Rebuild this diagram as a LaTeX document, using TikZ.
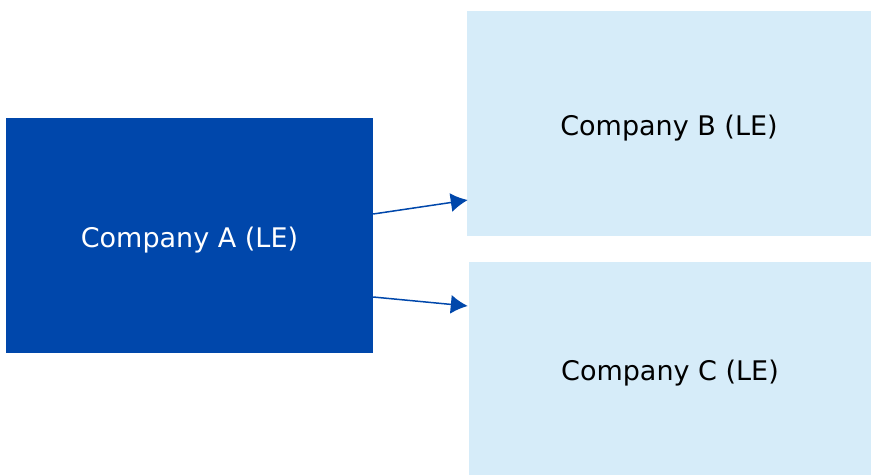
\documentclass[tikz,border=0pt]{standalone}
\usepackage{fontspec}
\setmainfont{DejaVu Sans}
\usepackage{tikz}
\usetikzlibrary{calc,arrows.meta}
\definecolor{darkblue}{RGB}{0,71,171}
\definecolor{paleblue}{RGB}{214,236,249}
\tikzset{
  entity/.style={inner sep=0pt,text height=24pt,text depth=0pt,font=\fontsize{27}{32}\selectfont},
  parent/.style={entity,fill=darkblue,text=white},
  child/.style={entity,fill=paleblue,text=black},
  link/.style={-{Latex[length=17pt,width=19pt]},darkblue,line width=1.5pt}
}
\begin{document}
\begin{tikzpicture}[x=1pt,y=-1pt]
                      \useasboundingbox (0,0) rectangle (871,475);
                      \node[parent,minimum width=367pt,minimum height=235pt](a)at(189.5,235.5){Company A (LE)};
                      \node[child,minimum width=404pt,minimum height=225pt](b)at(669,123.5){Company B (LE)};
                      \node[child,minimum width=402pt,minimum height=213pt](c)at(670,368.5){Company C (LE)};
                      \draw[link]($(a.east)+(0,-21.5)$)--($(b.west)+(1,76.5)$);
                      \draw[link]($(a.east)+(0,61.5)$)--($(c.west)+(-1,-62.5)$);
                  \end{tikzpicture}
\end{document}
